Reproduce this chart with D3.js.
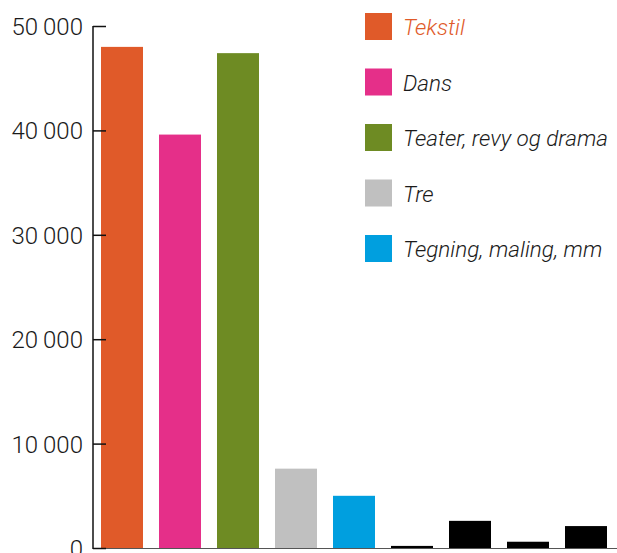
<!DOCTYPE html>
<html>
<head>
<meta charset="utf-8">
<script src="https://cdn.jsdelivr.net/npm/d3@7"></script>
<style>
  body { margin: 0; background: #fff; }
  svg { display: block; }
</style>
</head>
<body>
<svg id="chart" width="617" height="553"></svg>
<script>
// bars, left to right
const categories = ["Tekstil", "Dans", "Teater, revy og drama", "Tre", "Tegning, maling, mm", "b6", "b7", "b8", "b9"];
const values = [48000, 39600, 47400, 7600, 5000, 200, 2600, 600, 2100];
const barColors = ["#e05a29", "#e52f89", "#6e8b23", "#c0c0c0", "#009fdf", "#000", "#000", "#000", "#000"];
const legendNames = ["Tekstil", "Dans", "Teater, revy og drama", "Tre", "Tegning, maling, mm"];
const yTicks = [0, 10000, 20000, 30000, 40000, 50000];

const svg = d3.select('#chart');
const axisX = 93;
const baseY = 548;
const topY = 26;

const x = d3.scaleBand()
    .domain(categories)
    .range([axisX, 615])
    .paddingInner(0.276)
    .paddingOuter(0.138);

const y = d3.scaleLinear()
    .domain([0, 50000])
    .range([baseY, topY]);

const fmt = d => d3.format(",")(d).replace(/,/g, "\u2009");

// bars
svg.append("g")
    .selectAll("rect")
    .data(values)
    .join("rect")
    .attr("x", (d, i) => x(categories[i]))
    .attr("y", d => y(d))
    .attr("width", x.bandwidth())
    .attr("height", d => baseY + 1 - y(d))
    .attr("fill", (d, i) => barColors[i]);

// baseline
svg.append("line")
    .attr("x1", axisX)
    .attr("x2", 617)
    .attr("y1", baseY + 0.5)
    .attr("y2", baseY + 0.5)
    .attr("stroke", "#555")
    .attr("stroke-width", 1.2);

// y axis
const yAxis = svg.append("g")
    .attr("transform", `translate(${axisX},0)`)
    .call(d3.axisLeft(y).tickValues(yTicks).tickSize(-13).tickPadding(10).tickFormat(fmt));
yAxis.select(".domain")
    .attr("d", `M0,${topY}V${baseY + 1}`)
    .attr("stroke", "#111")
    .attr("stroke-width", 1.5);
yAxis.selectAll(".tick line")
    .attr("stroke", "#111")
    .attr("stroke-width", 1.5);
yAxis.selectAll(".tick text")
    .attr("font-family", "Roboto")
    .attr("font-weight", 300)
    .attr("font-size", 24)
    .attr("fill", "#1a1a1a")
    .attr("dy", "0.35em");

// legend
const legend = svg.append("g")
    .selectAll("g")
    .data(legendNames)
    .join("g")
    .attr("transform", (d, i) => `translate(365,${13 + i * 55.5})`);
legend.append("rect")
    .attr("width", 27)
    .attr("height", 27)
    .attr("fill", (d, i) => barColors[i]);
legend.append("text")
    .attr("x", 38)
    .attr("y", 22)
    .attr("font-family", "Roboto")
    .attr("font-weight", 300)
    .attr("font-style", "italic")
    .attr("font-size", 22.5)
    .attr("fill", (d, i) => i === 0 ? "#e05a29" : "#1a1a1a")
    .text(d => d);
</script>
</body>
</html>
